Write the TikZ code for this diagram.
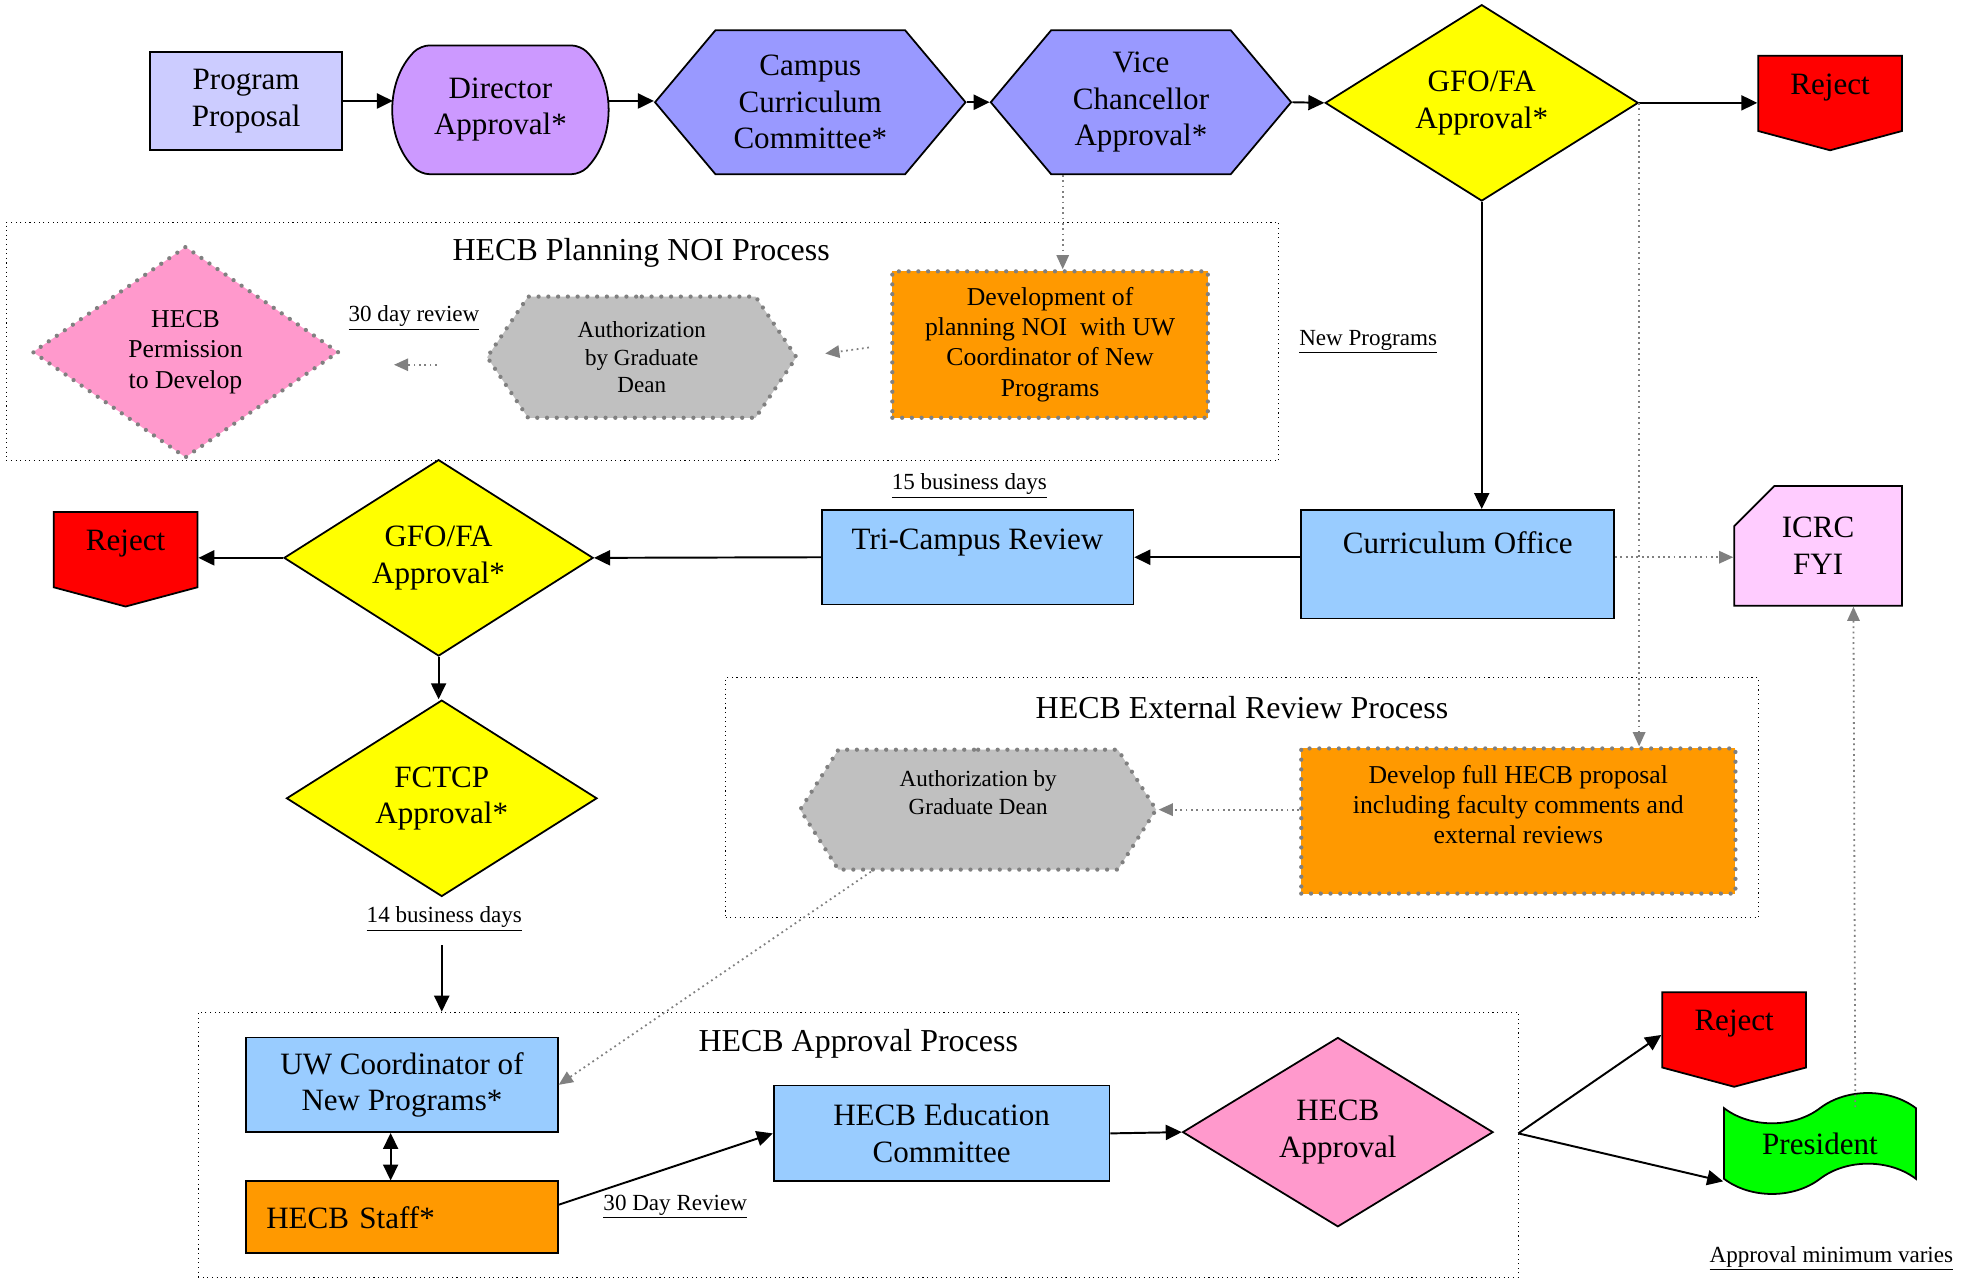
\documentclass[tikz,border=0pt]{standalone}
\usepackage{fontspec}
\setmainfont{Liberation Serif}
\usepackage{tikz}
\usetikzlibrary{shapes.geometric, shapes.symbols, shapes.misc, arrows.meta, calc}
\definecolor{lilac}{HTML}{CCCCFF}
\definecolor{violet}{HTML}{CC99FF}
\definecolor{periwinkle}{HTML}{9999FF}
\definecolor{gfoyellow}{HTML}{FFFF00}
\definecolor{rejred}{HTML}{FF0000}
\definecolor{hecbpink}{HTML}{FF99CC}
\definecolor{authgray}{HTML}{C0C0C0}
\definecolor{devorange}{HTML}{FF9900}
\definecolor{officeblue}{HTML}{99CCFF}
\definecolor{icrcpink}{HTML}{FFCCFF}
\definecolor{presgreen}{HTML}{00FF00}
\definecolor{dotgray}{HTML}{808080}
\newcommand\mainfs{\fontsize{17.5}{20.5}\selectfont}
\newcommand\midfs{\fontsize{14.5}{17}\selectfont}
\newcommand\smallfs{\fontsize{13}{15.5}\selectfont}
\newcommand\notefs{\fontsize{13}{15}\selectfont}
\newcommand\titlefs{\fontsize{18}{21}\selectfont}

\begin{document}
\begin{tikzpicture}[x=0.25mm, y=-0.25mm,
  base/.style={draw, line width=1pt, align=center, inner sep=0pt, font=\mainfs},
  box/.style={base, rectangle},
  hexa/.style={base, signal, signal to=east and west, signal pointer angle=100},
  decision/.style={base, diamond},
  reject/.style={base, signal, signal to=south, signal pointer angle=150, fill=rejred, minimum width=28.5mm, minimum height=17mm},
  dotb/.style={draw=dotgray, line width=2.4pt, dash pattern=on 0pt off 5.5pt, line cap=round},
  layer/.style={draw, line width=0.6pt, dotted},
  arr/.style={-{Triangle[length=9pt, width=8.5pt]}, line width=1.1pt},
  garr/.style={dotgray, dotted, line width=1pt, -{Triangle[length=8pt, width=7pt]}},
  note/.style={font=\notefs},
]
\path[use as bounding box, fill=white] (0,0) rectangle (1568,1014);

% Process frames
\node[layer, minimum width=252mm, minimum height=47.25mm] (noi) at (509,270.5) {};
\node[font=\titlefs] (noititle) at (508,200) {HECB Planning NOI Process};
\node[layer, minimum width=204.5mm, minimum height=47.5mm] (ext) at (984,632) {};
\node[font=\titlefs] (exttitle) at (984,561) {HECB External Review Process};
\node[layer, minimum width=261.5mm, minimum height=52.5mm] (appr) at (680,907) {};
\node[font=\titlefs] (apprtitle) at (680,827) {HECB Approval Process};

% Campus approval row
\node[box, fill=lilac, minimum width=38mm, minimum height=19.5mm] (prop) at (195,80) {Program\\Proposal};
\node[base, rounded rectangle, rounded rectangle arc length=90, rounded corners=5pt, fill=violet, minimum width=42.25mm, minimum height=25.5mm] (dir) at (396.5,87) {Director\\Approval*};
\node[hexa, fill=periwinkle, minimum width=61.5mm, minimum height=28.5mm] (campus) at (642,81) {Campus\\Curriculum\\Committee*};
\node[hexa, fill=periwinkle, minimum width=59.5mm, minimum height=28.5mm] (vice) at (904,81) {Vice\\Chancellor\\Approval*};
\node[decision, fill=gfoyellow, minimum width=62mm, minimum height=38.25mm] (gfo) at (1174,81.5) {GFO/FA\\Approval*};
\node[reject] (rej1) at (1450,74) {Reject\\[-10pt]\phantom{R}};

% Planning NOI
\node[base, diamond, dotb, fill=hecbpink, font=\midfs, minimum width=60.75mm, minimum height=42mm] (perm) at (147,279) {HECB\\Permission\\to Develop};
\node[note] (lbl30) at (328,252) {\underline{30 day review}};
\node[base, signal, signal to=east and west, signal pointer angle=112, dotb, fill=authgray, font=\smallfs, minimum width=61.25mm, minimum height=24mm] (auth1) at (508.5,283) {Authorization\\by Graduate\\Dean};
\node[base, dotb, fill=devorange, font=\midfs, minimum width=62.5mm, minimum height=29mm] (dev) at (832,273) {Development of\\planning NOI\ \ with UW\\Coordinator of New\\Programs};
\node[note] (newprog) at (1084,271) {\underline{New Programs}};

% Curriculum office row
\node[reject] (rej2) at (99.5,435.5) {Reject\\[-10pt]\phantom{R}};
\node[decision, fill=gfoyellow, minimum width=61.25mm, minimum height=38mm] (gfo2) at (347.5,442) {GFO/FA\\Approval*};
\node[box, fill=officeblue, minimum width=61.75mm, minimum height=18.75mm] (tri) at (774.5,441.5) {Tri-Campus Review\\\phantom{R}};
\node[note] (lbl15) at (768,385) {\underline{15 business days}};
\node[box, fill=officeblue, minimum width=62mm, minimum height=21.5mm] (cur) at (1155,447) {Curriculum Office\\[4pt]\phantom{R}};
\node[base, chamfered rectangle, chamfered rectangle corners=north west, chamfered rectangle xsep=4mm, chamfered rectangle ysep=4mm, fill=icrcpink, minimum width=33.25mm, minimum height=23.75mm] (icrc) at (1440.5,432.5) {ICRC\\FYI};

% External review
\node[decision, fill=gfoyellow, minimum width=61.5mm, minimum height=38.25mm] (fctcp) at (350,632.5) {FCTCP\\Approval*};
\node[note] (lbl14) at (352,728) {\underline{14 business days}};
\node[base, signal, signal to=east and west, signal pointer angle=115, dotb, fill=authgray, font=\smallfs, minimum width=70.5mm, minimum height=23.75mm] (auth2) at (775,641.5) {Authorization by\\Graduate Dean\\[4pt]};
\node[base, dotb, fill=devorange, font=\midfs, minimum width=86mm, minimum height=28.75mm] (devfull) at (1203,650.5) {Develop full HECB proposal\\including faculty comments and\\external reviews\\[2pt]};

% HECB approval
\node[box, fill=officeblue, minimum width=61.75mm, minimum height=18.75mm] (uw) at (318.5,859.5) {UW Coordinator of\\New Programs*};
\node[box, fill=devorange, minimum width=61.75mm, minimum height=14.25mm, text width=53.75mm, align=left] (staff) at (318.5,964.5) {HECB Staff*\\[4pt]};
\node[note] (lbl30d) at (535,956) {\underline{30 Day Review}};
\node[box, fill=officeblue, minimum width=66.5mm, minimum height=19mm] (edu) at (746,898) {HECB Education\\Committee};
\node[decision, fill=hecbpink, minimum width=61.5mm, minimum height=37.5mm] (happ) at (1060,897) {HECB\\Approval};
\coordinate (split) at (1203,898);
\node[reject] (rej3) at (1374,816) {Reject\\[-10pt]\phantom{R}};
\node[base, tape, tape bend height=6mm, fill=presgreen, minimum width=38mm, minimum height=20mm] (pres) at (1442,906) {President};
\node[note] (lblvar) at (1451,997) {\underline{Approval minimum varies}};

% Arrows
\draw[arr] (prop.east) -- (prop.east -| dir.west);
\draw[arr] (prop.east -| dir.east) -- (prop.east -| campus.west);
\draw[arr] (campus.east) -- (vice.west);
\draw[arr] (vice.east) -- (gfo.west);
\draw[arr] (gfo.east) -- (gfo.east -| rej1.west);
\draw[arr] (gfo.south) -- (gfo.south |- cur.north);
\draw[arr] (cur.west |- tri.east) -- (tri.east);
\draw[arr] (tri.west) -- (gfo2.east);
\draw[arr] (gfo2.west) -- (gfo2.west -| rej2.east);
\draw[arr] (gfo2.south) -- (gfo2.south |- fctcp.north);
\draw[arr] ([yshift=-9.5mm]fctcp.south) -- (fctcp.south |- appr.north);
\draw[{Triangle[length=9pt, width=8.5pt]}-{Triangle[length=9pt, width=8.5pt]}, line width=1.1pt] ([xshift=-2.25mm]uw.south) -- ([xshift=-2.25mm]staff.north);
\draw[arr] ([yshift=2.5mm]staff.east) -- (edu.west);
\draw[arr] (edu.east) -- (happ.west);
\draw[arr] (split) -- ([yshift=-1mm]rej3.west);
\draw[arr] (split) -- ([yshift=-7.5mm]pres.west);

% Dotted links
\draw[garr] ([xshift=2.5mm]dev.north |- vice.south) -- ([xshift=2.5mm]dev.north);
\draw[garr, shorten <=4.25mm, shorten >=5.25mm] (dev.west) -- (auth1.east);
\draw[garr, shorten <=9.5mm, shorten >=10.5mm] ([yshift=-1.5mm]auth1.west) -- ([yshift=-1.5mm]auth1.west -| perm.east);
\draw[garr] (gfo.east) -- (gfo.east |- devfull.north);
\draw[garr] (tri.east -| cur.east) -- (tri.east -| icrc.west);
\draw[garr] ([xshift=7mm]pres.north) -- ([xshift=7mm]icrc.south);
\draw[garr] (auth2.east -| devfull.west) -- (auth2.east);
\draw[garr] ($(auth2.south)+(-85,0)$) -- (uw.east);

\end{tikzpicture}
\end{document}
